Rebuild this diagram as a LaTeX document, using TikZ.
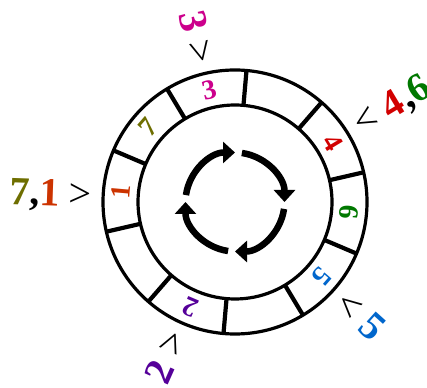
\documentclass[tikz,border=0pt]{standalone}
\usepackage{fontspec}
\setmainfont{Liberation Serif}
\usetikzlibrary{arrows.meta}
\definecolor{Onecolor}{RGB}{204, 51, 0}
\definecolor{Twocolor}{RGB}{85, 0, 153}
\definecolor{Threecolor}{RGB}{204, 0, 140}
\definecolor{Fourcolor}{RGB}{210, 0, 0}
\definecolor{Fivecolor}{RGB}{0, 102, 204}
\definecolor{Sixcolor}{RGB}{0, 120, 0}
\definecolor{Sevencolor}{RGB}{110, 110, 0}
\def\innerradius{97}
\def\outerradius{132}
\def\labelradius{114.5}
\def\pointerradius{143}
\def\cycleradius{49.5}

\begin{document}
\begin{tikzpicture}[x=1pt, y=1pt,
    seglabel/.style={font=\fontsize{28}{28}\selectfont\bfseries, inner sep=0},
    pointer/.style={font=\fontsize{40}{40}\selectfont\bfseries, inner sep=0},
    cyclearrow/.style={line width=6.5, -{Triangle[width=21pt, length=12pt]}}]
    \useasboundingbox (-235, -185) rectangle (192, 202);
    % ring
    \draw[line width=3.2] (0, 0) circle (\outerradius);
    \draw[line width=3.2] (0, 0) circle (\innerradius);
    \draw[line width=4.2] (13:\innerradius) -- (13:\outerradius);
    \draw[line width=4.2] (49:\innerradius) -- (49:\outerradius);
    \draw[line width=4.2] (85:\innerradius) -- (85:\outerradius);
    \draw[line width=4.2] (121:\innerradius) -- (121:\outerradius);
    \draw[line width=4.2] (157:\innerradius) -- (157:\outerradius);
    \draw[line width=4.2] (193:\innerradius) -- (193:\outerradius);
    \draw[line width=4.2] (229:\innerradius) -- (229:\outerradius);
    \draw[line width=4.2] (265:\innerradius) -- (265:\outerradius);
    \draw[line width=4.2] (301:\innerradius) -- (301:\outerradius);
    \draw[line width=4.2] (337:\innerradius) -- (337:\outerradius);
    % slot labels
    \node[seglabel, text=Fourcolor, rotate=-59] (s4) at (31:\labelradius) {4};
    \node[seglabel, text=Threecolor, rotate=13] (s3) at (103:\labelradius) {3};
    \node[seglabel, text=Sevencolor, rotate=49] (s7) at (139:\labelradius) {7};
    \node[seglabel, text=Onecolor, rotate=85] (s1) at (175:\labelradius) {1};
    \node[seglabel, text=Twocolor, rotate=157] (s2) at (247:\labelradius) {2};
    \node[seglabel, text=Fivecolor, rotate=229] (s5) at (319:\labelradius) {5};
    \node[seglabel, text=Sixcolor, rotate=265] (s6) at (355:\labelradius) {6};
    % pointers
    \node[pointer, rotate=31, anchor=west] (p46) at (31:\pointerradius) {{\mdseries <} \textcolor{Fourcolor}{4},\textcolor{Sixcolor}{6}};
    \node[pointer, rotate=-77, anchor=east] (p3) at (103:\pointerradius) {\textcolor{Threecolor}{3} {\mdseries >}};
    \node[pointer, rotate=-2, anchor=east] (p71) at (178:\pointerradius) {\textcolor{Sevencolor}{7},\textcolor{Onecolor}{1} {\mdseries >}};
    \node[pointer, rotate=66, anchor=east] (p2) at (246:\pointerradius) {\textcolor{Twocolor}{2} {\mdseries >}};
    \node[pointer, rotate=-42, anchor=west] (p5) at (318:\pointerradius) {{\mdseries <} \textcolor{Fivecolor}{5}};
    % cycle
    \draw[cyclearrow] (172:\cycleradius) arc[start angle=172, end angle=90, radius=\cycleradius];
    \draw[cyclearrow] (82:\cycleradius) arc[start angle=82, end angle=0, radius=\cycleradius];
    \draw[cyclearrow] (-8:\cycleradius) arc[start angle=-8, end angle=-90, radius=\cycleradius];
    \draw[cyclearrow] (-98:\cycleradius) arc[start angle=-98, end angle=-180, radius=\cycleradius];
\end{tikzpicture}
\end{document}
